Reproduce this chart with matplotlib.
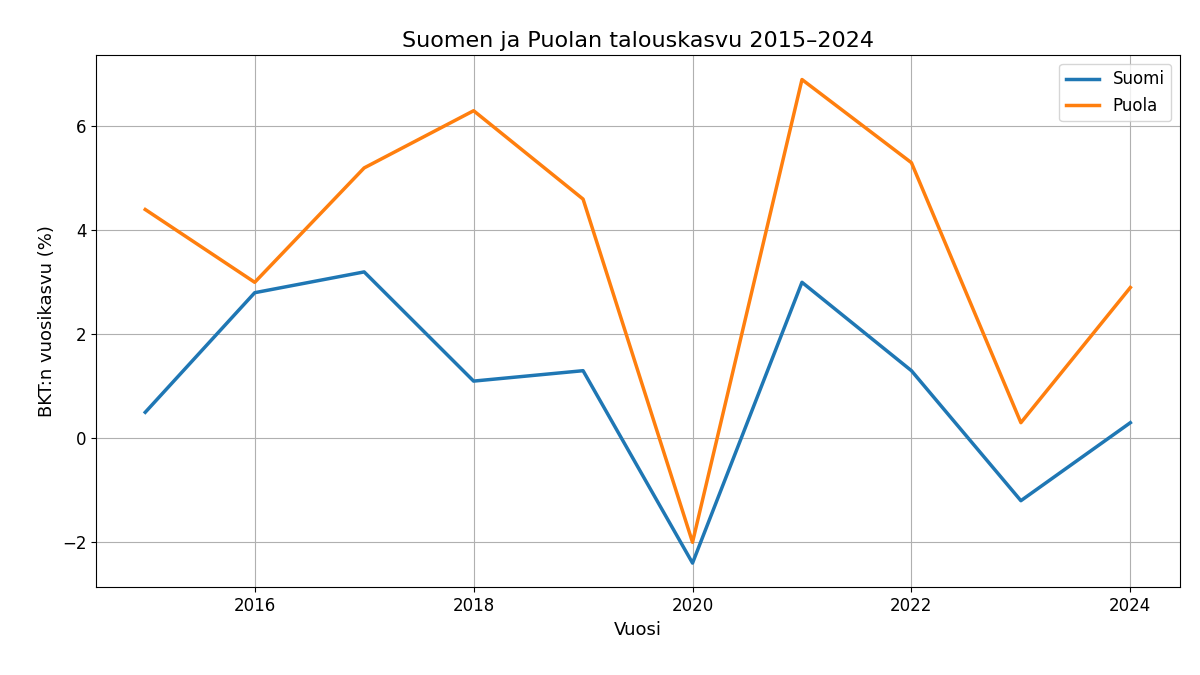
import matplotlib
matplotlib.use("Agg")
import matplotlib.pyplot as plt

years = [2015, 2016, 2017, 2018, 2019, 2020, 2021, 2022, 2023, 2024]
suomi = [0.5, 2.8, 3.2, 1.1, 1.3, -2.4, 3.0, 1.3, -1.2, 0.3]
puola = [4.4, 3.0, 5.2, 6.3, 4.6, -2.0, 6.9, 5.3, 0.3, 2.9]

fig, ax = plt.subplots(figsize=(12, 6.75), dpi=100)
ax.plot(years, suomi, lw=2.5, label="Suomi")
ax.plot(years, puola, lw=2.5, label="Puola")
ax.set_title("Suomen ja Puolan talouskasvu 2015–2024", fontsize=16)
ax.set_xlabel("Vuosi", fontsize=13)
ax.set_ylabel("BKT:n vuosikasvu (%)", fontsize=13)
ax.tick_params(labelsize=12)
ax.grid(True)
ax.legend(fontsize=12, loc="upper right")
fig.subplots_adjust(left=0.08, right=0.983, top=0.918, bottom=0.13)
fig.savefig("out.png")
